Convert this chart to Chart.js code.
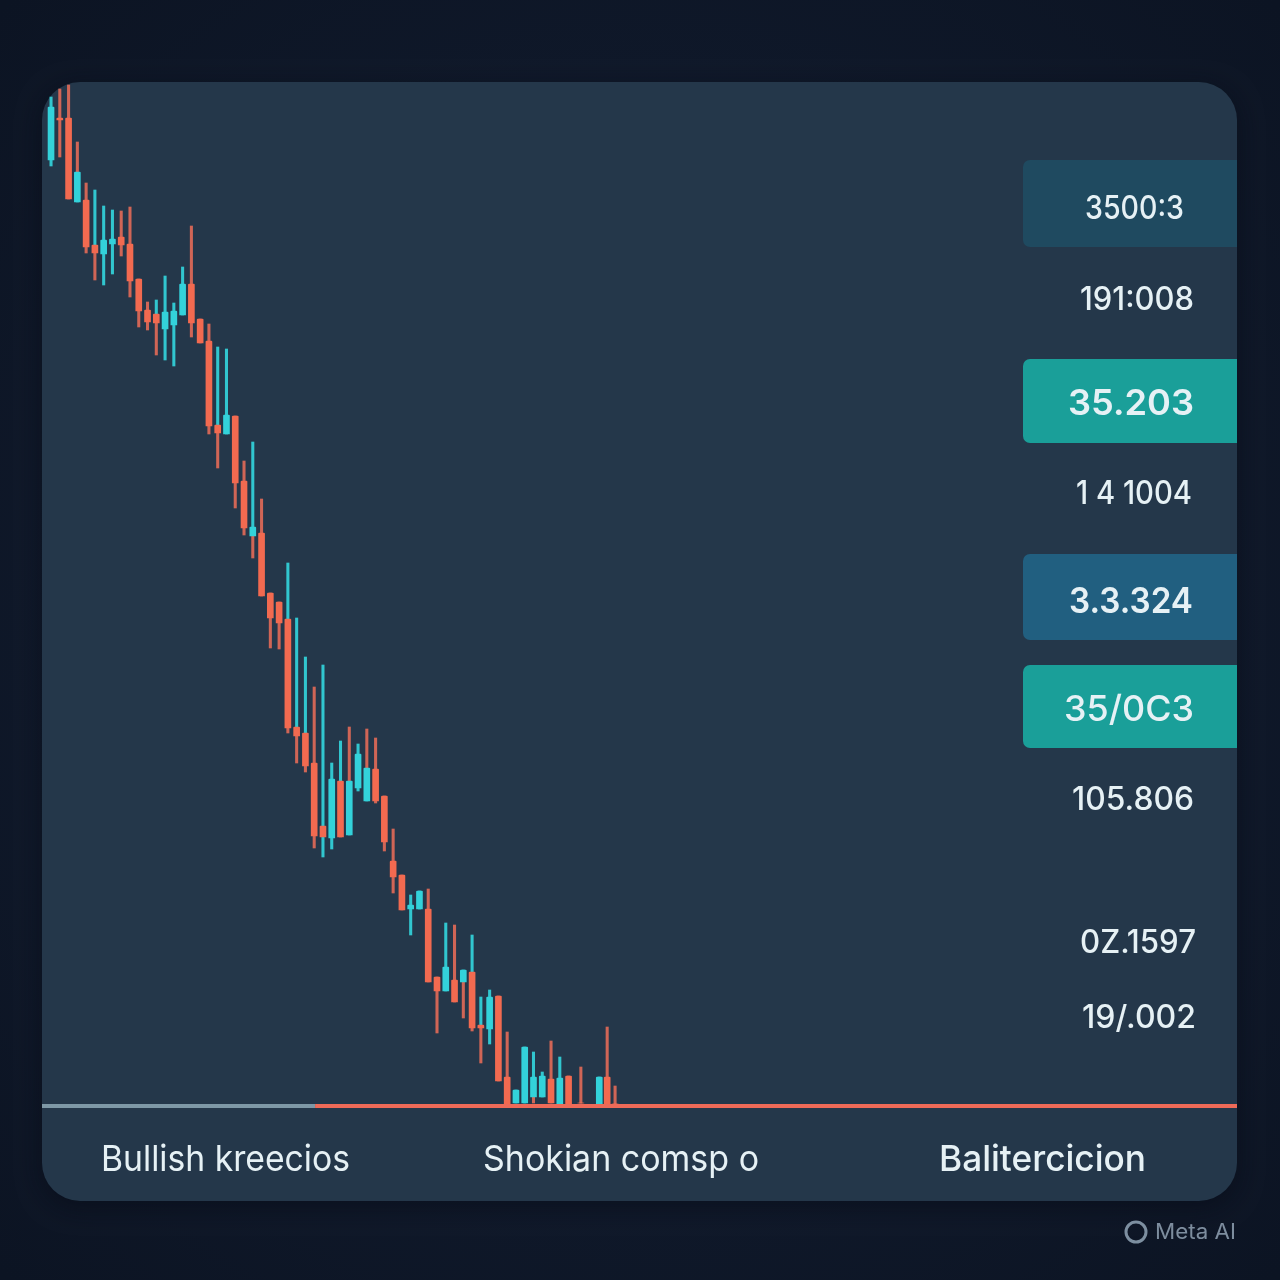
<!DOCTYPE html>
<html>
<head>
<meta charset="utf-8">
<title>Candles</title>
<script src="https://cdn.jsdelivr.net/npm/chart.js@4/dist/chart.umd.min.js"></script>
<style>
  html, body { margin: 0; padding: 0; background: #0d1627; }
  canvas { display: block; }
</style>
</head>
<body>
<canvas id="candleChart" width="1280" height="1280"></canvas>
<script>
// Candle values
const slots = [0,1,2,3,4,5,6,7,8,9,10,11,12,13,14,15,16,17,18,19,20,21,22,23,24,25,26,27,28,29,30,31,
    32,33,34,35,36,37,38,39,40,41,42,43,44,45,46,47,48,49,50,51,52,53,54,55,56,57,58,59,60.4,62.5,63.4,64.3];
const high = [1009,1017,1021,964,923,916,900,896,895,899,827,804,806,830,803,839,880,787,782,759,757,690,645,664,607,513,504,543,488,449,419,441,
    343,365,379,362,377,368,310,277,231,211,215,217,129,183,181,136,171,109,116,110,74,16,59,54,34,65,49,30,39,29,79,20];
const bodyTop = [999,988,988,934,906,861,866,867,869,862,827,796,792,794,795,822,822,787,765,681,691,690,625,579,573,513,504,487,379,373,343,280,
    327,325,325,352,338,337,310,245,231,201,215,197,129,139,126,136,134,81,109,110,29,16,59,29,30,27,28,30,3,29,29,2];
const bodyBottom = [946,986,907,904,859,853,852,862,861,825,795,784,783,777,781,791,783,763,680,673,672,623,578,570,510,488,483,378,370,340,270,269,
    268,269,271,318,305,305,264,229,196,197,197,124,115,115,104,124,78,78,77,25,1,3,3,9,9,3,2,2,3,2,2,2];
const low = [940,949,907,904,853,826,821,832,850,809,779,776,751,746,740,791,769,763,672,638,672,598,571,548,510,458,457,373,343,334,258,249,
    257,269,271,315,305,303,255,213,196,171,197,124,73,115,104,88,75,43,62,25,1,3,3,3,9,3,2,2,3,2,2,2];
const bodyKind = ["c","r","r","c","r","r","c","c","r","r","r","r","r","c","c","c","r","r","r","r","c","r","r","c","r","r","r","r","r","r","r","r",
    "c","r","c","c","c","r","r","r","r","c","c","r","r","c","r","c","r","r","c","r","r","c","c","c","c","r","c","r","r","c","r","r"];
const upperKind = ["c","r","r","r","r","c","c","c","r","r","r","r","c","c","c","c","r","r","r","c","c","r","r","c","r","r","r","c","c","c","r","c",
    "c","c","r","c","r","r","r","r","r","c","c","r","r","c","r","c","c","c","c","r","r","c","c","c","c","r","c","r","r","c","r","r"];
const lowerKind = ["c","r","r","c","r","r","c","c","r","r","r","r","r","c","c","c","r","r","r","r","c","r","r","r","r","r","r","r","r","r","r","c",
    "c","r","c","c","c","r","r","r","r","c","c","r","r","c","r","r","r","r","c","r","r","c","c","r","c","r","c","r","r","c","r","r"];

// Base line along the bottom of the plot
const baseGreyX = [-1.03, 30.1];
const baseRedX = [30.1, 135.2];

// Price tags on the right
const tagLabels = ["3500:3", "191:008", "35.203", "1 4 1004", "3.3.324", "35/0C3", "105.806", "0Z.1597", "19/.002"];
const tagValues = [899, 808, 704, 614, 506, 398, 308, 165, 90];

const footerLabels = ["Bullish kreecios", "Shokian comsp o", "Balitercicion"];

const coral = "#f26a50";
const cyan = "#33d2da";
const kindColors = { c: cyan, r: coral };
const wickColors = { c: "rgba(51,210,218,0.92)", r: "rgba(232,108,88,0.88)" };

// left edge, right edge, font size, weight, box colour (null = no box) for each tag
const tagStyles = [
    [1085, 1184, 32, 500, "#1f4a60"],
    [1080, 1194, 32, 500, null],
    [1068, 1194, 36, 600, "#1a9f99"],
    [1076, 1192, 32, 500, null],
    [1069, 1193, 36, 600, "#215f80"],
    [1064, 1194, 36, 500, "#1a9f99"],
    [1072, 1194, 32, 500, null],
    [1080, 1196, 32, 500, null],
    [1082, 1196, 32, 500, null]
];
const tagBoxes = [[160, 247], null, [359, 443], null, [554, 640], [665, 748], null, null, null];
const footerStyles = [
    [101, 350, 36, 400],
    [483, 759, 36, 400],
    [939, 1146, 36, 500]
];

// Draw text squeezed or stretched to span exactly left..right
function fitText(ctx, text, left, right, baseline) {
    const w = ctx.measureText(text).width;
    ctx.save();
    ctx.translate(left, baseline);
    ctx.scale((right - left) / w, 1);
    ctx.textAlign = "left";
    ctx.textBaseline = "alphabetic";
    ctx.fillText(text, 0, 0);
    ctx.restore();
}

const backdrop = {
    id: "backdrop",
    beforeDraw(chart) {
        const ctx = chart.ctx;
        const outer = ctx.createRadialGradient(640, 640, 300, 640, 640, 900);
        outer.addColorStop(0, "#111b2e");
        outer.addColorStop(1, "#0c1423");
        ctx.fillStyle = outer;
        ctx.fillRect(0, 0, 1280, 1280);

        ctx.save();
        ctx.shadowColor = "rgba(5,10,20,0.55)";
        ctx.shadowBlur = 24;
        ctx.shadowOffsetY = 6;
        ctx.fillStyle = "#24374a";
        ctx.beginPath();
        ctx.roundRect(42, 82, 1195, 1119, 38);
        ctx.fill();
        ctx.restore();

        tagBoxes.forEach((box, i) => {
            if (!box) return;
            ctx.fillStyle = tagStyles[i][4];
            ctx.beginPath();
            ctx.roundRect(1023, box[0], 214, box[1] - box[0], [7, 0, 0, 7]);
            ctx.fill();
        });
    },
    afterDraw(chart) {
        const ctx = chart.ctx;
        const y = chart.scales.y;
        tagLabels.forEach((label, i) => {
            const s = tagStyles[i];
            ctx.font = s[3] + " " + s[2] + "px Inter";
            ctx.fillStyle = "#e6f1f5";
            fitText(ctx, label, s[0], s[1], y.getPixelForValue(tagValues[i]) + s[2] * 0.365);
        });
        footerLabels.forEach((label, i) => {
            const s = footerStyles[i];
            ctx.font = s[3] + " " + s[2] + "px Inter";
            ctx.fillStyle = "#e6f1f5";
            fitText(ctx, label, s[0], s[1], 1171);
        });
        // Watermark
        ctx.strokeStyle = "#7d8fa0";
        ctx.lineWidth = 3;
        ctx.beginPath();
        ctx.arc(1136, 1232, 10, 0, Math.PI * 2);
        ctx.stroke();
        ctx.font = "400 21px Inter";
        ctx.fillStyle = "#7d8d9e";
        fitText(ctx, "Meta AI", 1155, 1236, 1239);
    }
};

const points = (top, bottom) => slots.map((x, i) => ({ x, y: [top[i], bottom[i]] }));

new Chart(document.getElementById("candleChart").getContext("2d"), {
    type: "bar",
    data: {
        datasets: [
            {
                data: points(bodyTop, bodyBottom),
                backgroundColor: bodyKind.map(k => kindColors[k]),
                barThickness: 6,
                borderRadius: 1,
                grouped: false,
                order: 1
            },
            {
                data: points(high, bodyTop),
                backgroundColor: upperKind.map(k => wickColors[k]),
                barThickness: 2.4,
                grouped: false,
                order: 2
            },
            {
                data: points(bodyBottom, low),
                backgroundColor: lowerKind.map(k => wickColors[k]),
                barThickness: 2.4,
                grouped: false,
                order: 2
            },
            {
                type: "line",
                data: baseGreyX.map(x => ({ x, y: 0 })),
                borderColor: "#7e98a6",
                borderWidth: 4,
                pointRadius: 0,
                clip: false,
                order: 3
            },
            {
                type: "line",
                data: baseRedX.map(x => ({ x, y: 0 })),
                borderColor: "#ee6a58",
                borderWidth: 4,
                pointRadius: 0,
                clip: false,
                order: 0
            }
        ]
    },
    options: {
        responsive: false,
        animation: false,
        layout: { padding: { left: 42, right: 43, top: 82, bottom: 174 } },
        plugins: { legend: { display: false }, tooltip: { enabled: false } },
        scales: {
            x: { type: "linear", display: false, offset: false, min: -1.03, max: 135.2 },
            y: { display: false, min: 0, max: 1024 }
        }
    },
    plugins: [backdrop]
});
</script>
</body>
</html>
